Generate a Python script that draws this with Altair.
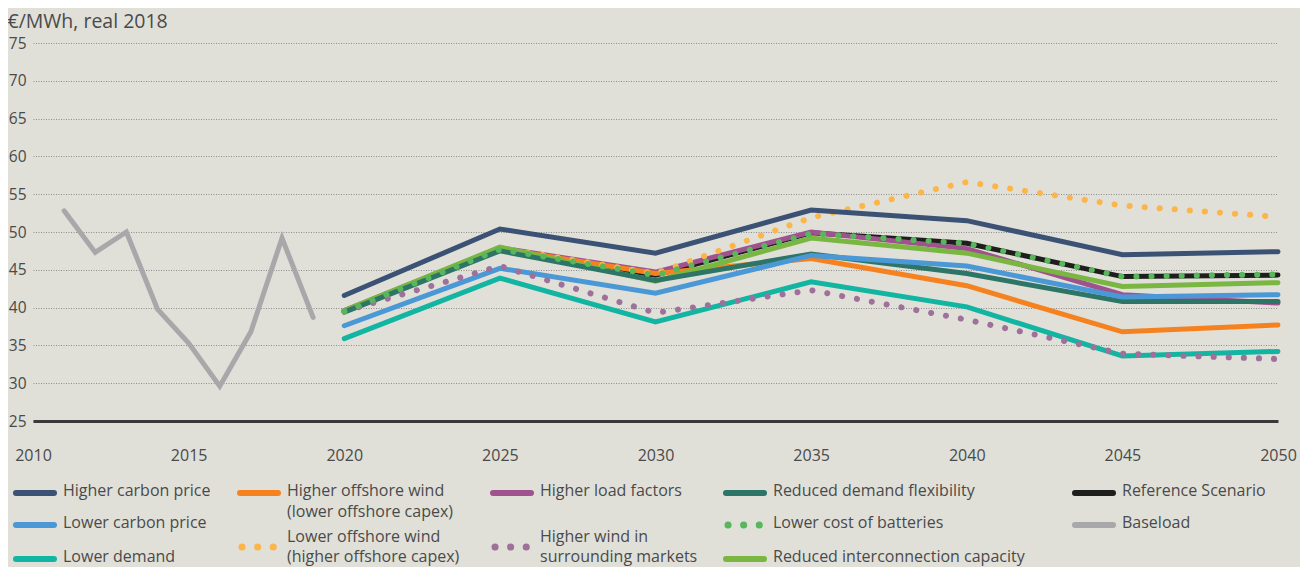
import altair as alt
import pandas as pd

# ---------------- data ----------------
years = [2020, 2025, 2030, 2035, 2040, 2045, 2050]
baseload_years = [2011, 2012, 2013, 2014, 2015, 2016, 2017, 2018, 2019]
baseload = [52.8, 47.3, 50.0, 39.8, 35.3, 29.6, 36.8, 49.2, 38.7]

higher_carbon_price = [41.6, 50.4, 47.2, 52.9, 51.5, 47.0, 47.4]
lower_carbon_price = [37.6, 45.2, 41.9, 46.9, 45.5, 41.4, 41.7]
lower_demand = [35.9, 43.9, 38.1, 43.4, 40.1, 33.6, 34.2]
higher_offshore_wind = [39.5, 47.8, 44.5, 46.5, 42.9, 36.8, 37.7]
lower_offshore_wind = [39.5, 47.9, 44.5, 51.9, 56.6, 53.5, 52.0]
higher_load_factors = [39.6, 47.9, 44.7, 50.0, 47.8, 41.7, 40.6]
higher_wind_surrounding = [39.5, 45.5, 39.3, 42.3, 38.4, 33.9, 33.2]
reduced_demand_flex = [39.4, 47.5, 43.6, 47.1, 44.5, 40.8, 40.8]
lower_cost_batteries = [39.5, 47.7, 44.3, 49.8, 48.5, 44.1, 44.4]
reduced_interconnection = [39.6, 48.0, 43.5, 49.2, 47.2, 42.8, 43.3]
reference_scenario = [39.5, 47.7, 44.3, 49.9, 48.5, 44.1, 44.3]

x_ticks = [2010, 2015, 2020, 2025, 2030, 2035, 2040, 2045, 2050]
y_ticks = [25, 30, 35, 40, 45, 50, 55, 60, 65, 70, 75]

series_names = [
    "Higher carbon price", "Lower carbon price", "Lower demand",
    "Higher offshore wind (lower offshore capex)", "Lower offshore wind (higher offshore capex)",
    "Higher load factors", "Higher wind in surrounding markets",
    "Reduced demand flexibility", "Lower cost of batteries", "Reduced interconnection capacity",
    "Reference Scenario", "Baseload",
]
series_colors = [
    "#3b5275", "#4a98d6", "#12b5a2",
    "#f5821f", "#fbb54a",
    "#a0528f", "#9e709a",
    "#2d7566", "#58b65c", "#7ab642",
    "#1e1e1c", "#a8a8ab",
]

scenario_values = {
    "Higher carbon price": higher_carbon_price,
    "Lower carbon price": lower_carbon_price,
    "Lower demand": lower_demand,
    "Higher offshore wind (lower offshore capex)": higher_offshore_wind,
    "Lower offshore wind (higher offshore capex)": lower_offshore_wind,
    "Higher load factors": higher_load_factors,
    "Higher wind in surrounding markets": higher_wind_surrounding,
    "Reduced demand flexibility": reduced_demand_flex,
    "Lower cost of batteries": lower_cost_batteries,
    "Reduced interconnection capacity": reduced_interconnection,
    "Reference Scenario": reference_scenario,
}
dotted = {"Lower offshore wind (higher offshore capex)", "Higher wind in surrounding markets",
          "Lower cost of batteries"}

rows = []
for y, v in zip(baseload_years, baseload):
    rows.append({"series": "Baseload", "year": y, "value": v})
for name, vals in scenario_values.items():
    for y, v in zip(years, vals):
        rows.append({"series": name, "year": y, "value": v})
df = pd.DataFrame(rows)

color_scale = alt.Scale(domain=series_names, range=series_colors)

TEXT = "#4a4a4a"
FONT = "Open Sans"

x_axis = alt.Axis(values=x_ticks, format="d", title=None,
                  grid=False, ticks=False, labelFlush=False, labelPadding=26,
                  labelOverlap=False,
                  labelFontSize=16, labelFont=FONT, labelColor=TEXT,
                  domain=True, domainColor="#3a3a3a", domainWidth=3)
y_axis = alt.Axis(values=y_ticks, tickCount=11, title="€/MWh, real 2018",
                  titleAngle=0, titleAlign="left", titleBaseline="alphabetic",
                  titleX=-26, titleY=-16, titleFontSize=19.5, titleFontWeight="normal",
                  titleFont=FONT, titleColor=TEXT,
                  grid=True, gridColor="#8c8c8c", gridDash=[1, 1.5], gridWidth=1,
                  ticks=False, domain=False, labelPadding=7, labelOverlap=False,
                  labelFontSize=15.5, labelFont=FONT, labelColor=TEXT)
x_scale = alt.Scale(domain=[2010, 2050], nice=False, zero=False)
y_scale = alt.Scale(domain=[25, 75], nice=False, zero=False)

draw_order = [
    "Baseload", "Reference Scenario", "Higher load factors",
    "Higher offshore wind (lower offshore capex)", "Lower offshore wind (higher offshore capex)",
    "Reduced interconnection capacity", "Reduced demand flexibility", "Lower carbon price",
    "Higher carbon price", "Lower demand", "Higher wind in surrounding markets",
    "Lower cost of batteries",
]

layers = []
for name in draw_order:
    sub = df[df.series == name]
    if name in dotted:
        mk = alt.Chart(sub).mark_line(strokeWidth=6, strokeDash=[0.1, 15], strokeCap="round")
    else:
        mk = alt.Chart(sub).mark_line(strokeWidth=5, strokeCap="round",
                                      strokeJoin="miter")
    layers.append(mk.encode(
        x=alt.X("year:Q", scale=x_scale, axis=x_axis),
        y=alt.Y("value:Q", scale=y_scale, axis=y_axis),
        color=alt.Color("series:N", scale=color_scale, legend=None),
    ))

# ---------------- manual legend (layout only) ----------------
OX, OY = 33, 43  # plot origin on page
col_sym = [14, 238, 491, 724, 1073]
col_txt = [63, 287, 540, 773, 1122]
legend_layout = [
    # name, col, symbol y, [text lines with y]
    ("Higher carbon price", 0, 493, [("Higher carbon price", 491)]),
    ("Lower carbon price", 0, 525, [("Lower carbon price", 523)]),
    ("Lower demand", 0, 559, [("Lower demand", 557)]),
    ("Higher offshore wind (lower offshore capex)", 1, 493,
     [("Higher offshore wind", 491), ("(lower offshore capex)", 512)]),
    ("Lower offshore wind (higher offshore capex)", 1, 547,
     [("Lower offshore wind", 537), ("(higher offshore capex)", 557)]),
    ("Higher load factors", 2, 493, [("Higher load factors", 491)]),
    ("Higher wind in surrounding markets", 2, 547,
     [("Higher wind in", 537), ("surrounding markets", 557)]),
    ("Reduced demand flexibility", 3, 493, [("Reduced demand flexibility", 491)]),
    ("Lower cost of batteries", 3, 525, [("Lower cost of batteries", 523)]),
    ("Reduced interconnection capacity", 3, 559, [("Reduced interconnection capacity", 557)]),
    ("Reference Scenario", 4, 493, [("Reference Scenario", 491)]),
    ("Baseload", 4, 525, [("Baseload", 523)]),
]
sym_rows, dot_rows, txt_rows = [], [], []
for name, c, sy, lines in legend_layout:
    if name in dotted:
        dot_rows.append({"series": name, "lx": col_sym[c] + 4 - OX, "lx2": col_sym[c] + 36 - OX,
                         "ly": sy - OY})
    else:
        sym_rows.append({"series": name, "lx": col_sym[c] + 2 - OX, "lx2": col_sym[c] + 40 - OX,
                         "ly": sy - OY})
    for t, ty in lines:
        txt_rows.append({"label": t, "lx": col_txt[c] - OX, "ly": ty - OY})

lx = alt.X("lx:Q", scale=None, axis=None)
ly = alt.Y("ly:Q", scale=None, axis=None)
leg_solid = alt.Chart(pd.DataFrame(sym_rows)).mark_rule(strokeWidth=6, strokeCap="round").encode(
    x=lx, x2="lx2:Q", y=ly, color=alt.Color("series:N", scale=color_scale, legend=None))
leg_dots = alt.Chart(pd.DataFrame(dot_rows)).mark_rule(
    strokeWidth=7, strokeCap="round", strokeDash=[0.1, 15.5]).encode(
    x=lx, x2="lx2:Q", y=ly, color=alt.Color("series:N", scale=color_scale, legend=None))
leg_text = alt.Chart(pd.DataFrame(txt_rows)).mark_text(
    align="left", baseline="middle", fontSize=16, font=FONT, color=TEXT).encode(
    x=lx, y=ly, text="label:N")

chart = alt.layer(*layers, leg_solid, leg_dots, leg_text).properties(
    width=1245, height=378,
    padding={"left": 25, "top": 35, "right": 22, "bottom": 146},
    autosize=alt.AutoSizeParams(type="none"),
    background="#e0e0d9",
).configure_view(stroke=None)

chart.save("out.html", embed_options={"renderer": "svg", "actions": False})
